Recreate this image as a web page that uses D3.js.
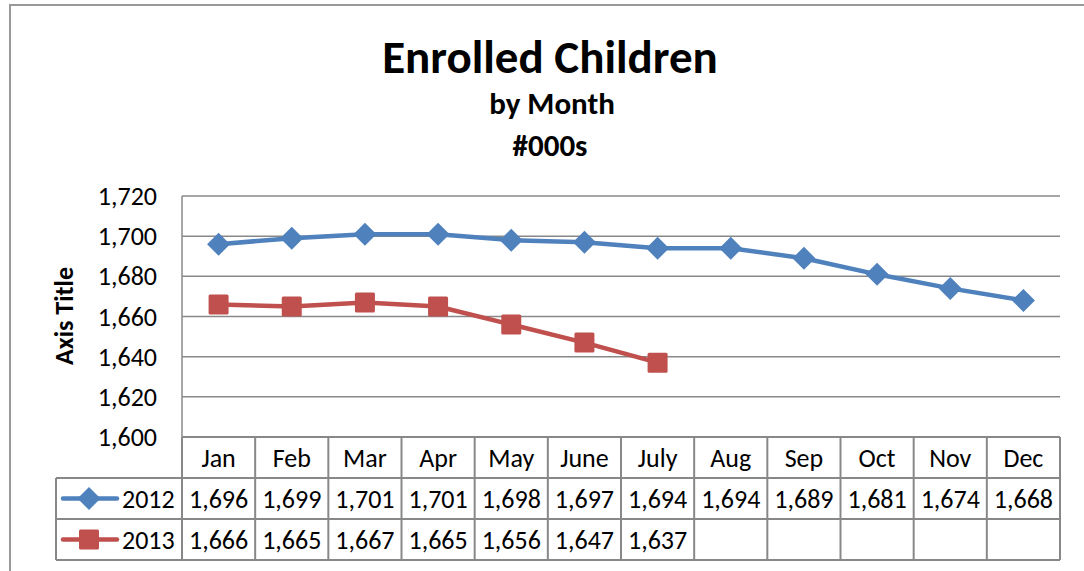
<!DOCTYPE html>
<html>
<head>
<meta charset="utf-8">
<script src="https://cdn.jsdelivr.net/npm/d3@7"></script>
<style>
body{margin:0;background:#fff;}
text{font-family:Carlito,Calibri,"Open Sans",sans-serif;}
</style>
</head>
<body>
<svg id="chart" width="1084" height="571"></svg>
<script>
const months=['Jan','Feb','Mar','Apr','May','June','July','Aug','Sep','Oct','Nov','Dec'];
const values2012=[1696,1699,1701,1701,1698,1697,1694,1694,1689,1681,1674,1668];
const values2013=[1666,1665,1667,1665,1656,1647,1637];
const yTicks=[1600,1620,1640,1660,1680,1700,1720];

const series=[
    {name:'2012',values:values2012,color:'#4f81bd',marker:'diamond'},
    {name:'2013',values:values2013,color:'#c0504d',marker:'square'}
];

const svg=d3.select('#chart');
const plotLeft=182, plotRight=1060, plotTop=196, plotBottom=437;
const rowH=41;
const fmt=d3.format(',');

// chart frame
svg.append('path')
    .attr('d','M10,571 V5 H1084')
    .attr('fill','none').attr('stroke','#999').attr('stroke-width',2);

// titles
svg.append('text').attr('x',550).attr('y',73).attr('text-anchor','middle')
    .style('font-size','47px').style('font-weight','bold').text('Enrolled Children');
svg.append('text').attr('x',552).attr('y',114).attr('text-anchor','middle')
    .style('font-size','31px').style('font-weight','bold').text('by Month');
svg.append('text').attr('x',550).attr('y',156).attr('text-anchor','middle')
    .style('font-size','31px').style('font-weight','bold').text('#000s');

const x=d3.scaleBand().domain(months).range([plotLeft,plotRight]);
const y=d3.scaleLinear().domain([1600,1720]).range([plotBottom,plotTop]);

// grid
svg.append('g').selectAll('line').data(yTicks).enter().append('line')
    .attr('x1',plotLeft).attr('x2',plotRight)
    .attr('y1',d=>y(d)).attr('y2',d=>y(d))
    .attr('stroke','#888').attr('stroke-width',1.5);
svg.append('line').attr('x1',plotLeft).attr('x2',plotLeft).attr('y1',plotTop).attr('y2',plotBottom)
    .attr('stroke','#888').attr('stroke-width',1.5);

// y axis labels
svg.append('g').selectAll('text').data(yTicks).enter().append('text')
    .attr('x',157).attr('y',d=>y(d)+9).attr('text-anchor','end')
    .style('font-size','26px').text(d=>fmt(d));

svg.append('text').attr('transform','translate(73,316) rotate(-90)')
    .attr('text-anchor','middle').style('font-size','26px').style('font-weight','bold')
    .text('Axis Title');

// lines + markers
const line=d3.line().x((d,i)=>x(months[i])+x.bandwidth()/2).y(d=>y(d));
function drawMarker(g,type,color,cx,cy){
    if(type=='diamond'){
        g.append('path').attr('d',`M${cx},${cy-11.5}L${cx+11.5},${cy}L${cx},${cy+11.5}L${cx-11.5},${cy}Z`)
            .attr('fill',color);
    } else {
        g.append('rect').attr('x',cx-10).attr('y',cy-10).attr('width',20).attr('height',20)
            .attr('rx',1.5).attr('fill',color);
    }
}
series.forEach(s=>{
    svg.append('path').datum(s.values).attr('d',line)
        .attr('fill','none').attr('stroke',s.color).attr('stroke-width',4.5)
        .attr('stroke-linejoin','round');
    const g=svg.append('g');
    s.values.forEach((v,i)=>drawMarker(g,s.marker,s.color,x(months[i])+x.bandwidth()/2,y(v)));
});

// data table
const tbl=svg.append('g');
const tStroke='#888';
tbl.append('line').attr('x1',plotLeft).attr('x2',plotRight).attr('y1',plotBottom).attr('y2',plotBottom)
    .attr('stroke',tStroke).attr('stroke-width',2);
[1,2,3].forEach(r=>{
    tbl.append('line').attr('x1',56).attr('x2',plotRight)
        .attr('y1',plotBottom+r*rowH).attr('y2',plotBottom+r*rowH)
        .attr('stroke',tStroke).attr('stroke-width',2);
});
months.forEach(m=>{
    tbl.append('line').attr('x1',x(m)).attr('x2',x(m)).attr('y1',plotBottom).attr('y2',plotBottom+3*rowH)
        .attr('stroke',tStroke).attr('stroke-width',2);
    tbl.append('text').attr('x',x(m)+x.bandwidth()/2).attr('y',plotBottom+30)
        .attr('text-anchor','middle').style('font-size','26px').text(m);
});
tbl.append('line').attr('x1',plotRight).attr('x2',plotRight).attr('y1',plotBottom).attr('y2',plotBottom+3*rowH)
    .attr('stroke',tStroke).attr('stroke-width',2);
tbl.append('line').attr('x1',56).attr('x2',56).attr('y1',plotBottom+rowH).attr('y2',plotBottom+3*rowH)
    .attr('stroke',tStroke).attr('stroke-width',2);

series.forEach((s,r)=>{
    const cy=plotBottom+(r+1)*rowH+rowH/2;
    tbl.append('line').attr('x1',63).attr('x2',117).attr('y1',cy).attr('y2',cy)
        .attr('stroke',s.color).attr('stroke-width',4.5).attr('stroke-linecap','round');
    drawMarker(tbl,s.marker,s.color,89,cy);
    tbl.append('text').attr('x',122).attr('y',cy+9).style('font-size','26px').text(s.name);
    s.values.forEach((v,i)=>{
        tbl.append('text').attr('x',x(months[i])+x.bandwidth()/2).attr('y',cy+9)
            .attr('text-anchor','middle').style('font-size','26px').text(fmt(v));
    });
});
</script>
</body>
</html>
